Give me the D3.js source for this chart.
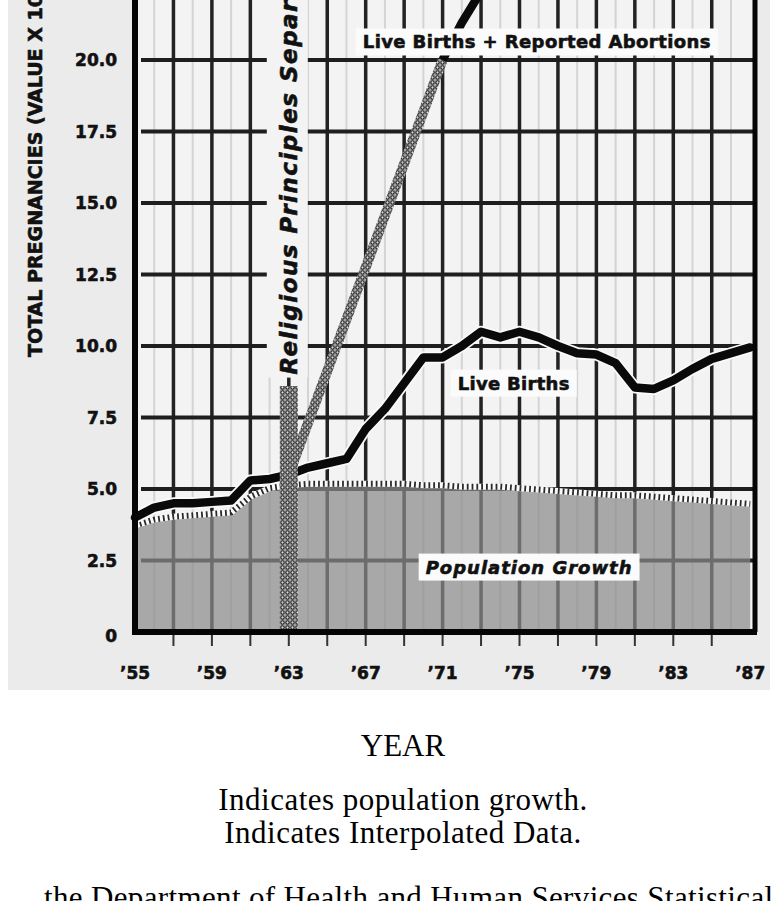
<!DOCTYPE html>
<html>
<head>
<meta charset="utf-8">
<script src="https://cdn.jsdelivr.net/npm/d3@7"></script>
<style>
  body { margin: 0; background: #fff; }
  svg { display: block; }
</style>
</head>
<body>
<svg id="chart" width="774" height="901"></svg>
<script>
// values are in the chart's own units (total pregnancies, value x 100,000)
const years = [1955, 1956, 1957, 1958, 1959, 1960, 1961, 1962, 1963, 1964, 1965,
  1966, 1967, 1968, 1969, 1970, 1971, 1972, 1973, 1974, 1975, 1976, 1977,
  1978, 1979, 1980, 1981, 1982, 1983, 1984, 1985, 1986, 1987];
const liveBirths = [4.0, 4.35, 4.5, 4.5, 4.55, 4.6, 5.3, 5.35, 5.5, 5.75, 5.9,
  6.05, 7.1, 7.8, 8.7, 9.6, 9.6, 10.0, 10.5, 10.3, 10.5, 10.3, 10.0,
  9.75, 9.7, 9.4, 8.55, 8.5, 8.8, 9.2, 9.55, 9.75, 9.95];
const popGrowth = [3.8, 4.0, 4.1, 4.15, 4.2, 4.25, 4.8, 5.1, 5.2, 5.25, 5.25,
  5.25, 5.25, 5.25, 5.25, 5.2, 5.2, 5.15, 5.15, 5.15, 5.1, 5.05, 5.0,
  4.95, 4.9, 4.85, 4.85, 4.8, 4.75, 4.7, 4.65, 4.6, 4.55];

// live births + reported abortions: interpolated part, then reported part
const interpYears = [1963, 1971];
const interpValues = [5.5, 20.0];
const reportedYears = [1971, 1972, 1973];
const reportedValues = [20.0, 21.3, 22.4];

const separationYear = 1963;

const yTicks = [0, 2.5, 5, 7.5, 10, 12.5, 15, 17.5, 20];
const yTickLabels = ["0", "2.5", "5.0", "7.5", "10.0", "12.5", "15.0", "17.5", "20.0"];
const labelYears = [1955, 1959, 1963, 1967, 1971, 1975, 1979, 1983, 1987];
const xTickLabels = ["\u201955", "\u201959", "\u201963", "\u201967", "\u201971", "\u201975", "\u201979", "\u201983", "\u201987"];
const gridYears = [1957, 1959, 1961, 1963, 1965, 1967, 1969, 1971, 1973, 1975,
  1977, 1979, 1981, 1983, 1985];
const faintYears = [1956, 1958, 1960, 1962, 1964, 1966, 1968, 1970, 1972, 1974,
  1976, 1978, 1980, 1982, 1984, 1986];

const svg = d3.select("#chart");
const bold = "'DejaVu Sans', sans-serif";
const serif = "'Liberation Serif', 'Times New Roman', serif";

let x = d3.scaleLinear().domain([1955, 1987.25]).range([135, 755]);
let y = d3.scaleLinear().domain([0, 20]).range([632, 60]);
const plotBg = "#f3f3f3";

// pattern for the hatched (interpolated) marks
const defs = svg.append("defs");
const pat = defs.append("pattern").attr("id", "hatch")
  .attr("patternUnits", "userSpaceOnUse").attr("width", 5).attr("height", 5);
pat.append("rect").attr("width", 5).attr("height", 5).attr("fill", "#a8a8a8");
pat.append("circle").attr("cx", 2.5).attr("cy", 2.5).attr("r", 1.7)
  .attr("fill", "#d8d8d8").attr("stroke", "#222").attr("stroke-width", 1.1);

// scanned picture backdrop
svg.append("rect").attr("x", 8).attr("y", 0).attr("width", 762).attr("height", 690)
  .attr("fill", "#ebebeb");
svg.append("rect").attr("x", x(1955)).attr("y", 0)
  .attr("width", x.range()[1] - x(1955)).attr("height", y(0))
  .attr("fill", plotBg);

// faint stripes between the grid lines
svg.append("g").selectAll("line").data(faintYears).enter().append("line")
  .attr("x1", d => x(d)).attr("x2", d => x(d))
  .attr("y1", 0).attr("y2", y(0))
  .attr("stroke", "#d4d4d4").attr("stroke-width", 2);

// grid
svg.append("g").selectAll("line").data(gridYears).enter().append("line")
  .attr("x1", d => x(d)).attr("x2", d => x(d))
  .attr("y1", 0).attr("y2", y(0))
  .attr("stroke", "#222").attr("stroke-width", 3.5);
svg.append("g").selectAll("line").data(yTicks.filter(d => d > 0)).enter().append("line")
  .attr("x1", x(1955) + 6).attr("x2", x.range()[1])
  .attr("y1", d => y(d)).attr("y2", d => y(d))
  .attr("stroke", "#1e1e1e").attr("stroke-width", 4);

// population growth area
const popData = years.map((d, i) => ({ year: d, v: popGrowth[i] }));
svg.append("path").datum(popData)
  .attr("d", d3.area().x(d => x(d.year)).y0(y(0)).y1(d => y(d.v)))
  .attr("fill", "#8a8a8a").attr("opacity", 0.72);
const popTop = d3.line().x(d => x(d.year)).y(d => y(d.v) + 2);
svg.append("path").datum(popData).attr("d", popTop)
  .attr("fill", "none").attr("stroke", "#fafafa").attr("stroke-width", 6);
svg.append("path").datum(popData).attr("d", popTop)
  .attr("fill", "none").attr("stroke", "#2a2a2a").attr("stroke-width", 6)
  .attr("stroke-dasharray", "1.8,3");

// blank strip behind the vertical note
svg.append("rect").attr("x", x(separationYear) - 22).attr("y", 0)
  .attr("width", 41).attr("height", y(9.0) + 3).attr("fill", plotBg);

// live births
const lbData = years.map((d, i) => ({ year: d, v: liveBirths[i] }));
const line = d3.line().x(d => x(d.year)).y(d => y(d.v));
svg.append("path").datum(lbData).attr("d", line)
  .attr("fill", "none").attr("stroke", "#fafafa").attr("stroke-width", 12)
  .attr("stroke-linejoin", "round");
svg.append("path").datum(lbData).attr("d", line)
  .attr("fill", "none").attr("stroke", "#0a0a0a").attr("stroke-width", 8.5)
  .attr("stroke-linejoin", "round").attr("stroke-linecap", "round");

// separation band
svg.append("rect").attr("x", x(separationYear) - 9).attr("y", y(8.6))
  .attr("width", 18).attr("height", y(0) - y(8.6))
  .attr("fill", "url(#hatch)");

// live births + reported abortions
const interpData = interpYears.map((d, i) => ({ year: d, v: interpValues[i] }));
svg.append("path").datum(interpData).attr("d", line)
  .attr("fill", "none").attr("stroke", "url(#hatch)").attr("stroke-width", 10);
const repData = reportedYears.map((d, i) => ({ year: d, v: reportedValues[i] }));
svg.append("path").datum(repData).attr("d", line)
  .attr("fill", "none").attr("stroke", "#0a0a0a").attr("stroke-width", 8.5)
  .attr("stroke-linejoin", "round");

// heavy sans text like the printed chart
function heavy(sel, size) {
  return sel.attr("font-family", bold).attr("font-weight", "bold")
    .attr("font-size", size).attr("fill", "#111")
    .attr("stroke", "#111").attr("stroke-width", 0.6);
}

// labels in white boxes
function boxLabel(text, cx, cy, size, italic, spacing) {
  const g = svg.append("g");
  const t = heavy(g.append("text"), size).attr("x", cx).attr("y", cy)
    .attr("text-anchor", "middle").attr("dominant-baseline", "central")
    .attr("font-style", italic ? "italic" : "normal")
    .attr("letter-spacing", spacing).text(text);
  const bb = t.node().getBBox();
  g.insert("rect", "text").attr("x", bb.x - 7).attr("y", bb.y - 3)
    .attr("width", bb.width + 14).attr("height", bb.height + 6).attr("fill", "#fbfbfb");
}
boxLabel("Live Births + Reported Abortions", x(1975.9), y(20.63), 18, false, 0.4);
boxLabel("Live Births", x(1974.7), y(8.7), 18, false, 0.3);
boxLabel("Population Growth", x(1975.5), y(2.27), 18, true, 1);

// axes frame
svg.append("line").attr("x1", x(1955)).attr("x2", x(1955)).attr("y1", 0).attr("y2", y(0) + 3)
  .attr("stroke", "#050505").attr("stroke-width", 6);
svg.append("line").attr("x1", x(1955) - 3).attr("x2", x.range()[1] + 2).attr("y1", y(0)).attr("y2", y(0))
  .attr("stroke", "#050505").attr("stroke-width", 6);
svg.append("line").attr("x1", x.range()[1]).attr("x2", x.range()[1]).attr("y1", 0).attr("y2", y(0))
  .attr("stroke", "#050505").attr("stroke-width", 5);

// x ticks and labels
svg.append("g").selectAll("line").data(gridYears).enter().append("line")
  .attr("x1", d => x(d)).attr("x2", d => x(d))
  .attr("y1", y(0) + 3).attr("y2", y(0) + 14)
  .attr("stroke", "#333").attr("stroke-width", 2);
heavy(svg.append("g").selectAll("text").data(labelYears).enter().append("text"), 17)
  .attr("x", d => x(d)).attr("y", 679).attr("text-anchor", "middle")
  .text((d, i) => xTickLabels[i]);

// y tick labels
heavy(svg.append("g").selectAll("text").data(yTicks).enter().append("text"), 17)
  .attr("x", 117).attr("y", d => y(d) + (d === 0 ? 10 : 6))
  .attr("text-anchor", "end")
  .text((d, i) => yTickLabels[i]);

// y axis title
heavy(svg.append("text"), 19).attr("transform", "translate(42,357) rotate(-90)")
  .text("TOTAL PREGNANCIES (VALUE X 100,000)");

// vertical note
heavy(svg.append("text"), 23)
  .attr("transform", `translate(${x(separationYear) + 8},${y(9.0)}) rotate(-90)`)
  .attr("font-style", "italic").attr("letter-spacing", 1.5)
  .text("Religious Principles Separate");

// text under the picture
const notes = [
  { t: "YEAR", y: 756, size: 31, ls: 0 },
  { t: "Indicates population growth.", y: 810, size: 31, ls: 0.5 },
  { t: "Indicates Interpolated Data.", y: 843, size: 31, ls: 0.5 }
];
svg.append("g").selectAll("text").data(notes).enter().append("text")
  .attr("x", 403).attr("y", d => d.y).attr("text-anchor", "middle")
  .attr("font-family", serif).attr("font-size", d => d.size)
  .attr("letter-spacing", d => d.ls).attr("fill", "#000")
  .text(d => d.t);
svg.append("text").attr("x", 44).attr("y", 908)
  .attr("font-family", serif).attr("font-size", 31).attr("letter-spacing", 0.35)
  .attr("fill", "#000")
  .text("the Department of Health and Human Services Statistical Abstract");
</script>
</body>
</html>
